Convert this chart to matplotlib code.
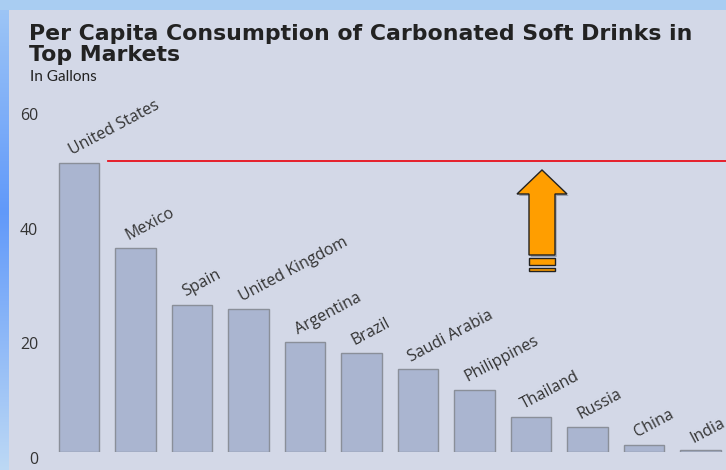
#!/usr/bin/env python3

import matplotlib.pyplot as plt
from matplotlib.patches import Polygon, Rectangle
import numpy as np

countries = ['United States', 'Mexico', 'Spain', 'United Kingdom', 'Argentina',
             'Brazil', 'Saudi Arabia', 'Philippines', 'Thailand', 'Russia',
             'China', 'India']
gallons = [50.4, 35.6, 25.7, 24.9, 19.2, 17.3, 14.4, 10.9, 6.1, 4.4, 1.2, 0.3]
ref_line = 50.7
y_ticks = [0, 20, 40, 60]

W, H = 726, 470
fig = plt.figure(figsize=(W / 100, H / 100), dpi=100)

# blue gradient frame behind the panel
bg = fig.add_axes([0, 0, 1, 1], zorder=-2)
grad = np.linspace(0, 1, 256)
col_top = np.array([0.68, 0.82, 0.96])
col_mid = np.array([0.38, 0.60, 0.98])
col_bot = np.array([0.74, 0.85, 0.96])
w = np.clip(1 - np.abs(grad - 0.45) / 0.55, 0, 1)[:, None]
base = np.where(grad[:, None] < 0.45, col_top, col_bot)
img = base * (1 - w) + col_mid * w
bg.imshow(img[:, None, :], aspect='auto', extent=[0, 1, 0, 1])
bg.set_xlim(0, 1)
bg.set_ylim(0, 1)
bg.axis('off')
# light band along the top
bg.add_patch(Rectangle((0, 1 - 10 / H), 1, 10 / H, color='#a9cdf2', lw=0))
# panel
bg.add_patch(Rectangle((9 / W, 0), 1, 1 - 10 / H, color='#d3d8e7', lw=0))

# plot area: y=0 at 452px, y=60 at 108px; bar spacing 56.5px, first bar centre at 79px
left_px, right_px = 48, 726
x0_px, step = 79, 56.5
ax = fig.add_axes([left_px / W, (H - 452) / H, (right_px - left_px) / W, (452 - 108) / H])
ax.set_xlim((left_px - x0_px) / step, (right_px - x0_px) / step)
ax.set_ylim(0, 60)
ax.patch.set_alpha(0)
for s in ax.spines.values():
    s.set_visible(False)

x = np.arange(len(countries))
ax.bar(x, gallons, width=0.71, color='#aab5d0', edgecolor='#8a8f99', linewidth=1.0)

ax.set_xticks([])
ax.set_yticks(y_ticks)
ax.set_yticklabels([str(t) for t in y_ticks], fontsize=11.5, color='#333333',
                   family='Open Sans')
ax.tick_params(axis='y', length=0, pad=7)
for lab in ax.get_yticklabels():
    lab.set_verticalalignment('top')

for i, (name, v) in enumerate(zip(countries, gallons)):
    ax.annotate(name, (i, v), xytext=(-3.5, 3), textcoords='offset points',
                rotation=28, rotation_mode='anchor', ha='left', va='bottom',
                fontsize=11.5, color='#333333', family='Open Sans',
                annotation_clip=False)

# red reference line
ax.plot([(108 - x0_px) / step, ax.get_xlim()[1]], [ref_line, ref_line],
        color='#e8101c', lw=1.3, clip_on=False)

# orange up arrow
ax_cx = (542 - x0_px) / step
def yv(px):
    return (452 - px) / 5.733
hw, sw = 25 / step, 13 / step
arrow = [(ax_cx, yv(170)), (ax_cx + hw, yv(194)), (ax_cx + sw, yv(194)),
         (ax_cx + sw, yv(255)), (ax_cx - sw, yv(255)), (ax_cx - sw, yv(194)),
         (ax_cx - hw, yv(194))]
shadow = [(px + 0.03, py - 0.35) for px, py in arrow]
ax.add_patch(Polygon(shadow, closed=True, color='#9aa0ae', lw=0, zorder=3))
ax.add_patch(Polygon(arrow, closed=True, facecolor='#ff9e00', edgecolor='#222222',
                     lw=1.0, zorder=4))
for top, bot in [(258, 265), (268, 271)]:
    ax.add_patch(Rectangle((ax_cx - sw, yv(bot)), 2 * sw, yv(top) - yv(bot),
                           facecolor='#ff9e00', edgecolor='#222222', lw=1.0, zorder=4))

# titles
fig.text(29 / W, 1 - 40 / H, 'Per Capita Consumption of Carbonated Soft Drinks in',
         fontsize=15.8, fontweight='bold', color='#222222', family='DejaVu Sans',
         va='baseline', ha='left')
fig.text(29 / W, 1 - 61 / H, 'Top Markets',
         fontsize=15.8, fontweight='bold', color='#222222', family='DejaVu Sans',
         va='baseline', ha='left')
fig.text(30 / W, 1 - 81 / H, 'In Gallons', fontsize=11, color='#222222',
         family='Lato', va='baseline', ha='left')

fig.savefig('out.png', dpi=100)
